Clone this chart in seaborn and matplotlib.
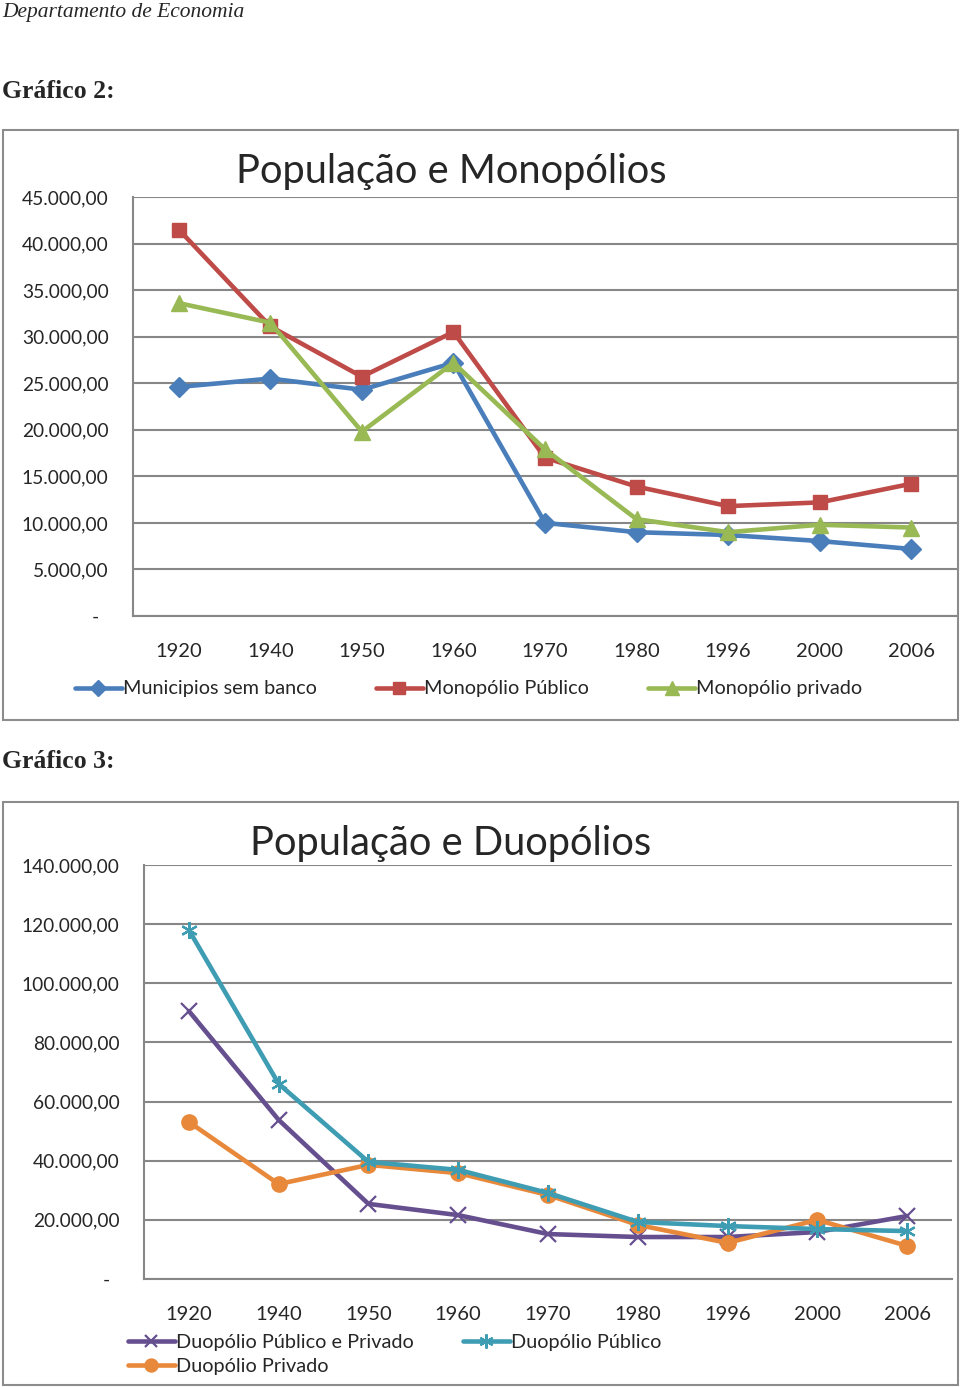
import matplotlib
matplotlib.use("Agg")
import matplotlib.pyplot as plt
import numpy as np
import seaborn as sns
from matplotlib.lines import Line2D
from matplotlib.patches import Rectangle
from matplotlib.ticker import FuncFormatter, FixedLocator

# Data
anos = ["1920", "1940", "1950", "1960", "1970", "1980", "1996", "2000", "2006"]

municipios_sem_banco = [24600, 25500, 24300, 27200, 10000, 9000, 8700, 8050, 7200]
monopolio_publico = [41500, 31100, 25700, 30500, 17000, 13900, 11800, 12200, 14200]
monopolio_privado = [33600, 31500, 19800, 27200, 17900, 10400, 9000, 9800, 9500]

duopolio_pub_priv = [90600, 53800, 25400, 21600, 15200, 14200, 14200, 15900, 21300]
duopolio_publico = [118000, 66000, 39600, 36900, 29100, 19300, 17900, 16900, 16200]
duopolio_privado = [53100, 32100, 38600, 35800, 28400, 18300, 12200, 20000, 11200]

W, H = 960, 1387
GRID = "#878787"

sns.set_style("white")
plt.rcParams["font.family"] = ["Lato", "DejaVu Sans"]


def box(x0, y0, x1, y1):
    """Convert pixel box (top-left origin) to figure fractions."""
    return [x0 / W, 1 - y1 / H, (x1 - x0) / W, (y1 - y0) / H]


def br_number(v, pos=None):
    if v == 0:
        return "-  "
    s = f"{v:,.2f}"
    return s.replace(",", "X").replace(".", ",").replace("X", ".")


def style_axis(ax, ymax, ystep):
    ax.set_xlim(-0.5, len(anos) - 0.5)
    ax.set_ylim(0, ymax)
    ax.set_yticks(np.arange(0, ymax + 1, ystep))
    ax.yaxis.set_major_formatter(FuncFormatter(br_number))
    ax.set_xticks(range(len(anos)))
    ax.set_xticklabels(anos)
    ax.xaxis.set_minor_locator(FixedLocator(np.arange(-0.5, len(anos), 1.0)))
    ax.tick_params(axis="x", which="major", length=0, pad=19.5, labelsize=14.5)
    ax.tick_params(axis="x", which="minor", length=4.5, width=1.2,
                   color=GRID, direction="out")
    ax.tick_params(axis="y", length=4.5, width=1.2, color=GRID,
                   direction="out", pad=13, labelsize=13.8)
    ax.grid(axis="y", color=GRID, lw=1.5)
    ax.grid(axis="x", visible=False)
    for side in ["top", "right"]:
        ax.spines[side].set_visible(False)
    for side in ["left", "bottom"]:
        ax.spines[side].set_color(GRID)
        ax.spines[side].set_linewidth(1.5)
    ax.set_xlabel("")
    ax.set_ylabel("")
    ax.set_facecolor("none")


fig = plt.figure(figsize=(W / 100, H / 100), dpi=100)

# Page text
fig.text(2 / W, 1 - 12 / H, "Departamento de Economia", family="Liberation Serif",
         style="italic", fontsize=15.5, va="center", ha="left")
fig.text(2 / W, 1 - 91 / H, "Gráfico 2:", family="Liberation Serif",
         weight="bold", fontsize=18.5, va="center", ha="left")
fig.text(2 / W, 1 - 762 / H, "Gráfico 3:", family="Liberation Serif",
         weight="bold", fontsize=18.5, va="center", ha="left")

# Chart borders
for (x0, y0, x1, y1) in [(3, 130, 958, 720), (3, 802, 958, 1385)]:
    fig.patches.append(Rectangle((x0 / W, 1 - y1 / H), (x1 - x0) / W, (y1 - y0) / H,
                                 transform=fig.transFigure, fill=False,
                                 edgecolor="#8c8c8c", lw=1.5))

pos = np.arange(len(anos))

# ---- Gráfico 2 ----
ax1 = fig.add_axes(box(133, 197, 957, 616))
series1 = [
    ("Municipios sem banco", municipios_sem_banco, "#4A7EBB", "D", 10),
    ("Monopólio Público", monopolio_publico, "#BE4B48", "s", 10.5),
    ("Monopólio privado", monopolio_privado, "#98B954", "^", 11.5),
]
handles1 = []
for name, vals, col, mk, ms in series1:
    sns.lineplot(x=pos, y=vals, color=col, marker=mk, markersize=ms, mec=col,
                 mew=1, lw=3.3, ax=ax1)
    handles1.append(Line2D([0], [0], color=col, lw=3.3, marker=mk, ms=ms * 0.85,
                           mec=col, label=name))
style_axis(ax1, 45000, 5000)
fig.text(451 / W, 1 - 171 / H, "População e Monopólios", fontsize=28.7,
         ha="center", va="center")
fig.legend(handles=handles1, loc="center left", bbox_to_anchor=(75 / W, 1 - 689 / H),
           ncol=3, frameon=False, fontsize=14.3, handlelength=2.35, handletextpad=0.05,
           columnspacing=3.0, borderpad=0, borderaxespad=0, numpoints=1)

# ---- Gráfico 3 ----
ax2 = fig.add_axes(box(144, 865, 952, 1279))
series2 = [
    ("Duopólio Público e Privado", duopolio_pub_priv, "#664F8F", "x", 11, 1.6),
    ("Duopólio Privado", duopolio_privado, "#E8883A", "o", 11, 1),
    ("Duopólio Público", duopolio_publico, "#3E9CB3", (6, 2, 0), 12, 1.6),
]
handles2 = []
for name, vals, col, mk, ms, mw in series2:
    sns.lineplot(x=pos, y=vals, color=col, marker=mk, markersize=ms, mec=col,
                 mew=mw, lw=3.3, ax=ax2)
    handles2.append(Line2D([0], [0], color=col, lw=3.3, marker=mk, ms=ms * 0.85,
                           mec=col, mew=mw, label=name))
style_axis(ax2, 140000, 20000)
fig.text(451 / W, 1 - 843 / H, "População e Duopólios", fontsize=28.7,
         ha="center", va="center")
fig.legend(handles=handles2, loc="upper left", bbox_to_anchor=(128 / W, 1 - 1334 / H),
           ncol=2, frameon=False, fontsize=14.3, handlelength=2.35, handletextpad=0.05,
           columnspacing=2.5, borderpad=0, borderaxespad=0, numpoints=1,
           labelspacing=0.35)

fig.savefig("out.png", dpi=100)
